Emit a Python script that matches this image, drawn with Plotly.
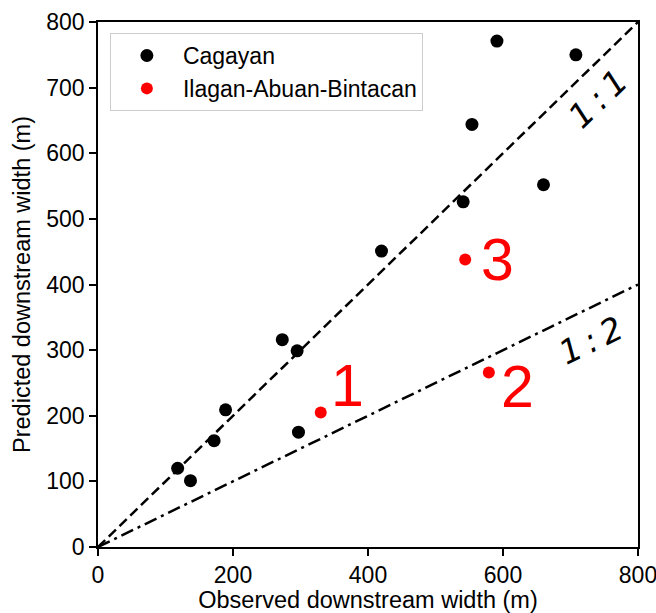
import plotly.graph_objects as go

# Data
cag_x = [118, 137, 172, 189, 273, 295, 297, 420, 541, 554, 591, 660, 708]
cag_y = [120, 101, 162, 209, 316, 299, 175, 451, 526, 644, 771, 552, 750]
iab_x = [330, 579, 544]
iab_y = [205, 266, 438]
iab_labels = ["1", "2", "3"]
label_x = [369, 622, 592]
label_y = [246, 244, 437]
line_x = [0, 800]
ratio_11 = [1.0, 1.0]
ratio_12 = [1.0, 0.5]

FONT = "Arial, Liberation Sans, sans-serif"

fig = go.Figure()
fig.add_trace(go.Scatter(x=line_x, y=[line_x[0] * ratio_11[0], line_x[1] * ratio_11[1]],
                         mode="lines", line=dict(color="black", width=2.5, dash="10px,5px"),
                         showlegend=False, hoverinfo="skip"))
fig.add_trace(go.Scatter(x=line_x, y=[line_x[0] * ratio_12[0], line_x[1] * ratio_12[1]],
                         mode="lines", line=dict(color="black", width=2.5, dash="13px,5px,3px,5px"),
                         showlegend=False, hoverinfo="skip"))
fig.add_trace(go.Scatter(x=cag_x, y=cag_y, mode="markers", name="Cagayan",
                         marker=dict(color="black", size=13)))
fig.add_trace(go.Scatter(x=iab_x, y=iab_y, mode="markers", name="Ilagan-Abuan-Bintacan",
                         marker=dict(color="red", size=12)))

for t, xx, yy in zip(iab_labels, label_x, label_y):
    fig.add_annotation(x=xx, y=yy, text=t, showarrow=False,
                       font=dict(family=FONT, size=59, color="red"))

fig.add_annotation(x=741, y=683, text="<i>1\u2009:\u20091</i>", showarrow=False, textangle=-44,
                   font=dict(family="DejaVu Sans", size=33, color="black"))
fig.add_annotation(x=730, y=314, text="<i>1\u2009:\u20092</i>", showarrow=False, textangle=-26,
                   font=dict(family="DejaVu Sans", size=33, color="black"))

axis_common = dict(range=[0, 800], showgrid=False, zeroline=False,
                   showline=True, linecolor="black", linewidth=1.5, mirror=True,
                   ticks="outside", ticklen=7, tickwidth=1.5, tickcolor="black",
                   ticklabeloverflow="allow",
                   tickfont=dict(family=FONT, size=23, color="black"))

fig.update_xaxes(**axis_common, dtick=200,
                 title=dict(text="Observed downstream width (m)", standoff=7,
                            font=dict(family=FONT, size=23.5, color="black")))
fig.update_yaxes(**axis_common, dtick=100,
                 title=dict(text="Predicted downstream width (m)", standoff=9,
                            font=dict(family=FONT, size=23.5, color="black")))

fig.update_layout(
    width=656, height=613,
    margin=dict(l=98, r=18, t=22, b=66, autoexpand=False),
    plot_bgcolor="white", paper_bgcolor="white",
    legend=dict(x=0.022, y=0.979, xanchor="left", yanchor="top",
                bgcolor="rgba(255,255,255,0.9)", bordercolor="#cccccc", borderwidth=1,
                font=dict(family=FONT, size=23, color="black"),
                itemwidth=62, tracegroupgap=0),
)

fig.write_html("out.html")
